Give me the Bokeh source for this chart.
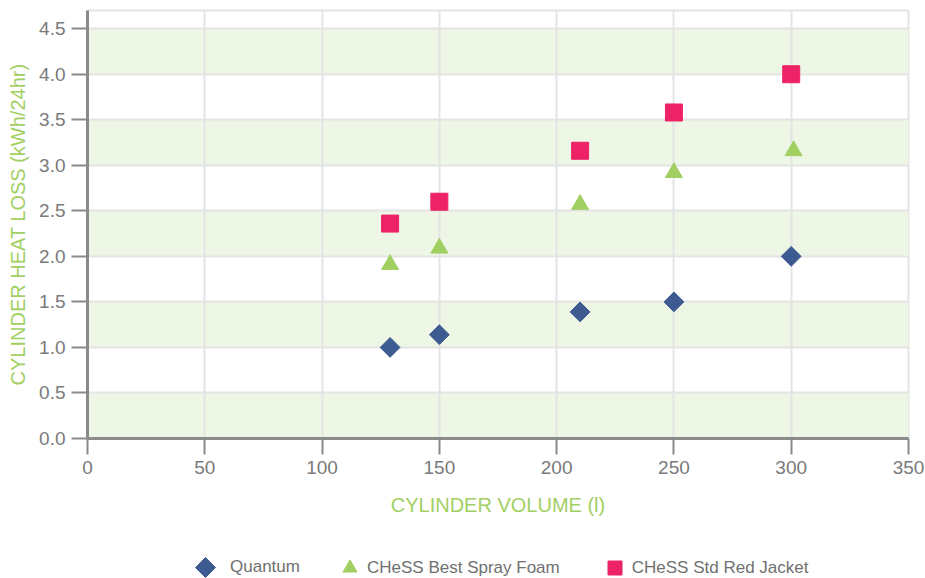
import math
from bokeh.plotting import figure
from bokeh.layouts import column
from bokeh.models import (BoxAnnotation, FixedTicker, PrintfTickFormatter,
                          Legend, LegendItem, Range1d, ColumnDataSource)
from bokeh.embed import file_html
from bokeh.resources import INLINE

# ---- data ----
series_names = ["Quantum", "CHeSS Best Spray Foam", "CHeSS Std Red Jacket"]
x_quantum = [129, 150, 210, 250, 300]
y_quantum = [1.0, 1.14, 1.39, 1.5, 2.0]
x_foam = [129, 150, 210, 250, 301]
y_foam = [1.91, 2.09, 2.57, 2.92, 3.16]
x_red = [129, 150, 210, 250, 300]
y_red = [2.36, 2.6, 3.16, 3.58, 4.0]
x_ticks = [0, 50, 100, 150, 200, 250, 300, 350]
y_ticks = [0.0, 0.5, 1.0, 1.5, 2.0, 2.5, 3.0, 3.5, 4.0, 4.5]
x_title = "CYLINDER VOLUME (l)"
y_title = "CYLINDER HEAT LOSS (kWh/24hr)"

FONT = "Liberation Sans"
GREEN_T = "#a2cf62"
TICK_C = "#7a7a7a"
AXIS_C = "#8a8a8a"
GRID_C = "#e4e4e4"
BAND_C = "#eef6e6"
C_Q, C_F, C_R = "#3d5b91", "#a2cf62", "#ee2266"

p = figure(width=925, height=538, output_backend="svg", toolbar_location=None,
           x_range=Range1d(0, 350), y_range=Range1d(0, 4.7),
           min_border_left=87, min_border_right=17, min_border_top=10,
           min_border_bottom=100)
p.outline_line_color = GRID_C
p.outline_line_width = 2
p.background_fill_color = "white"
p.border_fill_color = "white"

# bands
boxes = []
for lo in y_ticks[0::2]:
    boxes.append(BoxAnnotation(bottom=lo, top=lo + 0.5, fill_color=BAND_C,
                               fill_alpha=1.0, line_color=None, level="underlay"))
p.center = boxes + list(p.center)

for g in (p.xgrid, p.ygrid):
    g.grid_line_color = GRID_C
    g.grid_line_width = 2
p.xgrid.ticker = FixedTicker(ticks=x_ticks)
p.ygrid.ticker = FixedTicker(ticks=y_ticks)

for ax in (p.xaxis[0], p.yaxis[0]):
    ax.axis_line_color = AXIS_C
    ax.axis_line_width = 3
    ax.major_tick_line_color = AXIS_C
    ax.major_tick_line_width = 2
    ax.major_tick_out = 16
    ax.major_tick_in = 0
    ax.minor_tick_line_color = None
    ax.major_label_text_font = FONT
    ax.major_label_text_color = TICK_C
    ax.major_label_text_font_size = "19px"
    ax.axis_label_text_font = FONT
    ax.axis_label_text_color = GREEN_T
    ax.axis_label_text_font_size = "20px"
    ax.axis_label_text_font_style = "normal"

p.xaxis.ticker = FixedTicker(ticks=x_ticks)
p.yaxis.ticker = FixedTicker(ticks=y_ticks)
p.yaxis.formatter = PrintfTickFormatter(format="%.1f")
p.xaxis.axis_label = x_title
p.yaxis.axis_label = y_title
p.xaxis.major_label_standoff = 6
p.yaxis.major_label_standoff = 6
p.xaxis.axis_label_standoff = 17
p.yaxis.axis_label_standoff = 7

p.scatter(x_quantum, y_quantum, marker="square", angle=math.pi / 4, size=14,
          fill_color=C_Q, line_color=C_Q)
p.scatter(x_foam, y_foam, marker="triangle", size=17,
          fill_color=C_F, line_color=C_F)
p.scatter(x_red, y_red, marker="square", size=17,
          fill_color=C_R, line_color=C_R)

# ---- legend strip (series drawn outside its view; only the legend shows) ----
lg = figure(width=925, height=40, output_backend="svg", toolbar_location=None,
            x_range=Range1d(0, 1), y_range=Range1d(0, 1),
            min_border_left=87, min_border_right=17,
            min_border_top=0, min_border_bottom=0)
lg.xaxis.visible = False
lg.yaxis.visible = False
lg.xgrid.visible = False
lg.ygrid.visible = False
lg.outline_line_color = None
lg.background_fill_color = "white"
lg.border_fill_color = "white"

qsize = 35
try:
    from bokeh.models import Ngon
    src_q = ColumnDataSource(dict(x=x_quantum, y=y_quantum))
    l1 = lg.add_glyph(src_q, Ngon(x="x", y="y", radius=0.05, n=4,
                                  fill_color=C_Q, line_color=C_Q))
    qsize = 50
except Exception:
    l1 = lg.scatter(x_quantum, y_quantum, marker="square",
                    fill_color=C_Q, line_color=C_Q)
l2 = lg.scatter(x_foam, y_foam, marker="triangle", fill_color=C_F, line_color=C_F)
l3 = lg.scatter(x_red, y_red, marker="square", fill_color=C_R, line_color=C_R)

common = dict(orientation="horizontal", label_standoff=0, spacing=37,
              padding=0, margin=0, border_line_color=None,
              background_fill_alpha=0, label_text_font=FONT,
              label_text_font_size="17px", label_text_color="#707070")

legend_a = Legend(items=[LegendItem(label=series_names[0], renderers=[l1])],
                  location=(230 - 87 - qsize, -(qsize - 36)),
                  glyph_width=qsize, glyph_height=qsize, label_height=qsize,
                  **common)
legend_b = Legend(items=[LegendItem(label=series_names[1], renderers=[l2]),
                         LegendItem(label=series_names[2], renderers=[l3])],
                  location=(245, -7),
                  glyph_width=35, glyph_height=35, label_height=35,
                  **common)
lg.add_layout(legend_a, "center")
lg.add_layout(legend_b, "center")

layout = column(p, lg, spacing=0)
open("out.html", "w").write(file_html(layout, INLINE))
